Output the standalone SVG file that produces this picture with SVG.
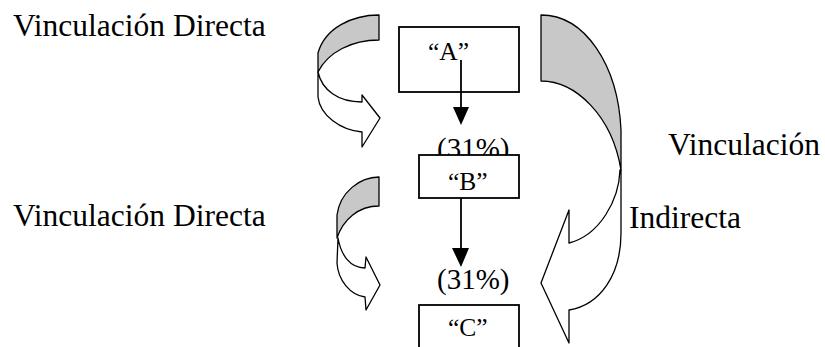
<svg xmlns="http://www.w3.org/2000/svg" width="825" height="347" viewBox="0 0 825 347">
  <style>
    .lbl { font-family: "Liberation Serif", "Times New Roman", serif; fill: #000; }
    .big { font-size: 31.5px; }
    .pct { font-size: 29px; }
    .nm { font-size: 25.5px; }
    .box { fill: #fff; stroke: #000; stroke-width: 1.8; }
    .shade { fill: #c8c8c8; stroke: #000; stroke-width: 1.3; stroke-linejoin: round; }
    .front { fill: #fff; stroke: #000; stroke-width: 1.3; stroke-linejoin: round; }
    .link { stroke: #000; stroke-width: 1.8; fill: none; }
    .head { fill: #000; stroke: none; }
  </style>
  <rect width="825" height="347" fill="#fff"/>

  <!-- side labels -->
  <text class="lbl big" x="13" y="36">Vinculación Directa</text>
  <text class="lbl big" x="13" y="226">Vinculación Directa</text>
  <text class="lbl big" x="668" y="155">Vinculación</text>
  <text class="lbl big" x="629" y="228">Indirecta</text>

  <!-- curved block arrows -->
  <g id="block-arrows">
    <!-- upper left: A to B -->
    <path class="front" d="M318,72 C322,90 338,102 362,102 L362,95 L380,118 L362,147 L362,132 C340,130 320,115 318,97 Z"/>
    <path class="shade" d="M379,15 C352,15 325,28 318,53 L318,72 C328,52 352,40 379,40 Z"/>
    <!-- lower left: B to C -->
    <path class="front" d="M338,238 C341,255 350,268 365,268 L366,257 L380,285 L366,310 L365,297 C350,295 338,280 337,263 Z"/>
    <path class="shade" d="M379,177 C360,177 340,192 337,215 L337,238 C343,220 358,206 379,206 Z"/>
    <!-- right: A to C -->
    <path class="front" d="M620,170 C619,200 600,235 569,243 L569,210 L541,283 L569,343 L569,310 C600,305 621,275 621,233 L621,170 Z"/>
    <path class="shade" d="M541,15 C585,15 618,65 621,130 L621,170 C612,115 575,81 541,81 Z"/>
  </g>

  <!-- percentages -->
  <text class="lbl pct" x="437" y="158">(31%)</text>
  <text class="lbl pct" x="437" y="289">(31%)</text>

  <g id="node-a">
    <rect class="box" x="399" y="27" width="120" height="65"/>
    <text class="lbl nm" x="428" y="60">“A”</text>
  </g>
  <g id="node-b">
    <rect class="box" x="419" y="155" width="100" height="43"/>
    <text class="lbl nm" x="448" y="190">“B”</text>
  </g>
  <g id="node-c">
    <rect class="box" x="419" y="305" width="100" height="60"/>
    <text class="lbl nm" x="448" y="336">“C”</text>
  </g>

  <g id="connectors">
    <line class="link" x1="461" y1="60" x2="461" y2="108"/>
    <polygon class="head" points="453,107 469,107 461,125"/>
    <line class="link" x1="461" y1="198" x2="461" y2="249"/>
    <polygon class="head" points="452,248 469,248 461,267"/>
  </g>
</svg>
